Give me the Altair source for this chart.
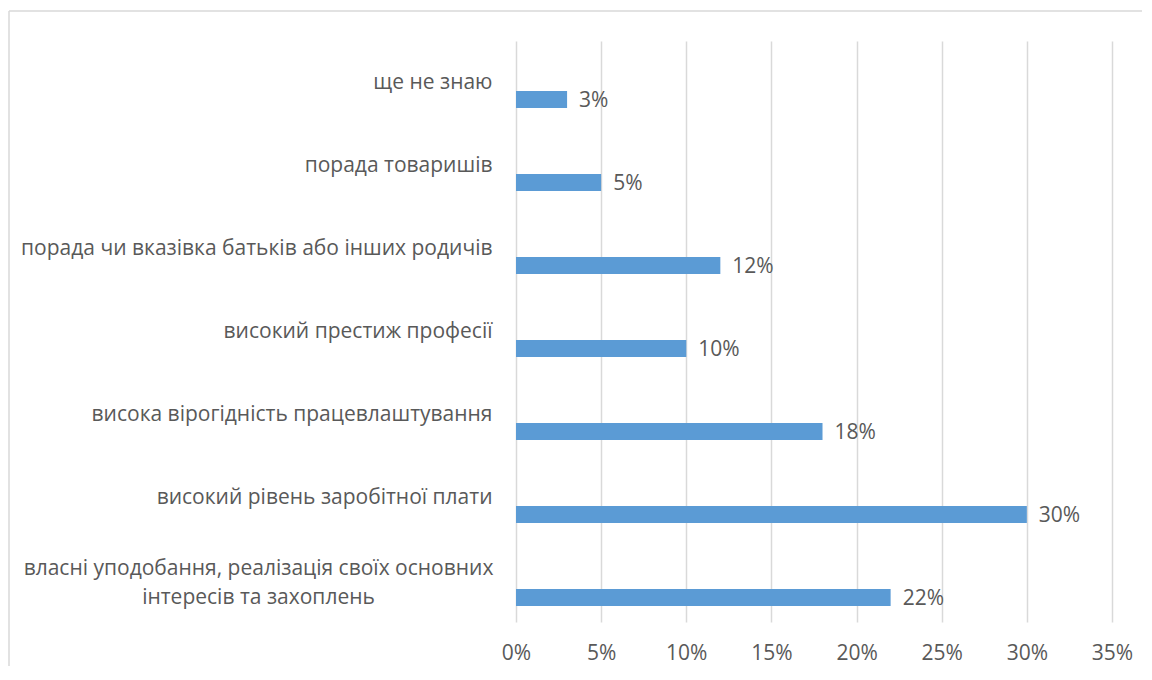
import altair as alt
import pandas as pd

categories = [
    "ще не знаю",
    "порада товаришів",
    "порада чи вказівка батьків або інших родичів",
    "високий престиж професії",
    "висока вірогідність працевлаштування",
    "високий рівень заробітної плати",
    "власні уподобання, реалізація своїх основних\nінтересів та захоплень",
]
values = [0.03, 0.05, 0.12, 0.10, 0.18, 0.30, 0.22]
x_ticks = [0, 0.05, 0.10, 0.15, 0.20, 0.25, 0.30, 0.35]

df = pd.DataFrame({"cat": categories, "val": values})
df["lbl"] = [f"{round(v * 100)}%" for v in values]

FONT = "Open Sans"
FS = 21
GREY = "#595959"
GRID = "#d9d9d9"
BAR = "#5b9bd5"
MULTI = "indexof(datum.value, 'власні') == 0"

y_enc = alt.Y(
    "cat:N",
    sort=categories,
    title=None,
    scale=alt.Scale(paddingInner=0, paddingOuter=0),
    axis=alt.Axis(
        ticks=False,
        domain=False,
        grid=False,
        labelFont=FONT,
        labelFontSize=FS,
        labelColor=GREY,
        labelLimit=600,
        labelAlign=alt.ConditionalAxisLabelAlign(
            condition={"test": MULTI, "value": "center"},
            value="right",
        ),
        labelPadding=alt.ConditionalAxisNumber(
            condition={"test": MULTI, "value": 258},
            value=24,
        ),
        labelOffset=alt.ConditionalAxisNumber(
            condition={"test": MULTI, "value": -12},
            value=0,
        ),
        labelExpr="split(datum.value, '\\n')",
        labelLineHeight=29,
    ),
)

x_enc = alt.X(
    "val:Q",
    title=None,
    scale=alt.Scale(domain=[0, 0.35], nice=False),
    axis=alt.Axis(
        values=x_ticks,
        format=".0%",
        ticks=False,
        domain=False,
        grid=True,
        gridColor=GRID,
        gridWidth=1.5,
        labelFont=FONT,
        labelFontSize=FS,
        labelColor=GREY,
        labelPadding=20,
        labelFlush=False,
        labelOverlap=False,
    ),
)

one = pd.DataFrame({"a": [0]})
border_top = alt.Chart(one).mark_rule(stroke=GRID, strokeWidth=1.5).encode(
    x=alt.value(-507), x2=alt.value(626), y=alt.value(-30)
)
border_left = alt.Chart(one).mark_rule(stroke=GRID, strokeWidth=1.5).encode(
    x=alt.value(-507), y=alt.value(-30), y2=alt.value(900)
)

bars = alt.Chart(df).mark_bar(height=17, yOffset=17, color=BAR).encode(
    x=x_enc, y=y_enc
)

text = alt.Chart(df).mark_text(
    align="left", baseline="middle", dx=12, yOffset=18,
    font=FONT, fontSize=FS, color=GREY
).encode(x="val:Q", y=alt.Y("cat:N", sort=categories), text="lbl:N")

chart = alt.layer(border_top, border_left, bars, text).properties(
    width=596,
    height=581,
    background="white",
    autosize=alt.AutoSizeParams(type="none"),
    padding={"left": 508, "top": 33, "right": 30, "bottom": 44},
).configure_view(stroke=None)

chart.save("out.html", embed_options={"renderer": "svg", "actions": False})
